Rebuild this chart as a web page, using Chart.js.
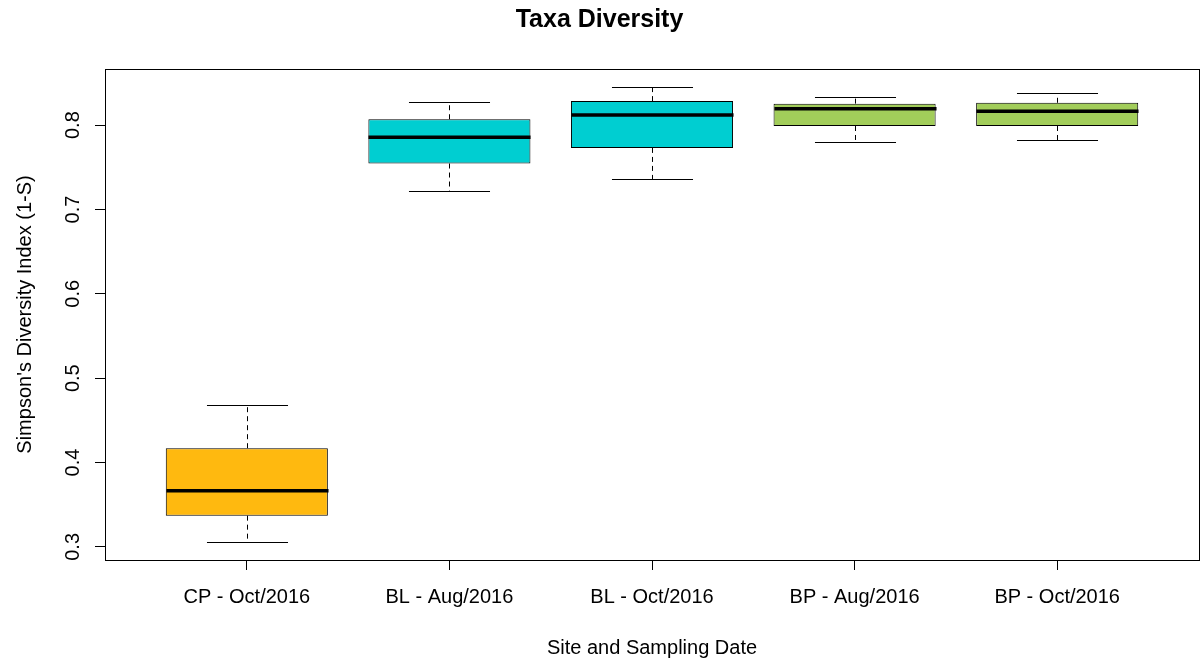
<!DOCTYPE html>
<html>
<head>
<meta charset="utf-8">
<title>Taxa Diversity</title>
<script src="https://cdn.jsdelivr.net/npm/chart.js@4/dist/chart.umd.min.js"></script>
<style>
  html, body { margin: 0; padding: 0; background: #fff; }
</style>
</head>
<body>
<canvas id="chart-js" width="1203" height="663"></canvas>
<script>
const categories = ["CP - Oct/2016", "BL - Aug/2016", "BL - Oct/2016", "BP - Aug/2016", "BP - Oct/2016"];
const whiskerLow = [0.306, 0.722, 0.736, 0.780, 0.782];
const q1 = [0.337, 0.7545, 0.773, 0.799, 0.799];
const median = [0.3665, 0.7855, 0.812, 0.8195, 0.8165];
const q3 = [0.417, 0.807, 0.8285, 0.8255, 0.8265];
const whiskerHigh = [0.468, 0.827, 0.845, 0.8335, 0.838];
const boxColors = ["#FFB90F", "#00CED1", "#00CED1", "#A2CD5A", "#A2CD5A"];
const yTicks = [0.3, 0.4, 0.5, 0.6, 0.7, 0.8];

// R style range: data range plus 4% on each side
const lo = Math.min(...whiskerLow);
const hi = Math.max(...whiskerHigh);
const pad = (hi - lo) * 0.04;

Chart.defaults.font.family = "'Liberation Sans', Arial, sans-serif";
Chart.defaults.color = "#000";

// whiskers, caps, medians and the frame round the plot
const boxExtras = {
  id: "boxExtras",
  afterDatasetsDraw(chart) {
    const { ctx, chartArea } = chart;
    const x = chart.scales.x;
    const y = chart.scales.y;
    ctx.save();
    ctx.strokeStyle = "#000";
    categories.forEach((c, i) => {
      const cx = Math.round(x.getPixelForValue(i + 1)) + 0.5;
      const boxHalf = x.getPixelForValue(i + 1.4) - x.getPixelForValue(i + 1);
      const half = boxHalf / 2;
      ctx.lineWidth = 1;
      ctx.setLineDash([5, 4]);
      ctx.beginPath();
      ctx.moveTo(cx, y.getPixelForValue(q3[i]));
      ctx.lineTo(cx, y.getPixelForValue(whiskerHigh[i]));
      ctx.moveTo(cx, y.getPixelForValue(q1[i]));
      ctx.lineTo(cx, y.getPixelForValue(whiskerLow[i]));
      ctx.stroke();
      ctx.setLineDash([]);
      ctx.beginPath();
      const yh = Math.round(y.getPixelForValue(whiskerHigh[i])) + 0.5;
      const yl = Math.round(y.getPixelForValue(whiskerLow[i])) + 0.5;
      ctx.moveTo(cx - half, yh);
      ctx.lineTo(cx + half, yh);
      ctx.moveTo(cx - half, yl);
      ctx.lineTo(cx + half, yl);
      ctx.stroke();
      ctx.lineWidth = 3.5;
      ctx.beginPath();
      const ym = y.getPixelForValue(median[i]);
      ctx.moveTo(cx - boxHalf, ym);
      ctx.lineTo(cx + boxHalf, ym);
      ctx.stroke();
    });
    ctx.lineWidth = 1;
    ctx.strokeRect(Math.round(chartArea.left) + 0.5, Math.round(chartArea.top) + 0.5,
      Math.round(chartArea.right - chartArea.left), Math.round(chartArea.bottom - chartArea.top));
    ctx.restore();
  }
};

const graphic = document.querySelector("#chart-js");
new Chart(graphic, {
  type: "bar",
  data: {
    datasets: [
      {
        data: categories.map((c, i) => ({ x: i + 1, y: [q1[i], q3[i]] })),
        backgroundColor: boxColors,
        borderColor: "#000",
        borderWidth: 1,
        borderSkipped: false,
        categoryPercentage: 1,
        barPercentage: 0.8,
      },
    ],
  },
  options: {
    responsive: false,
    animation: false,
    layout: { padding: { left: 0, right: 4, top: 0, bottom: 0 } },
    plugins: {
      legend: { display: false },
      tooltip: { enabled: false },
      title: {
        display: true,
        text: "Taxa Diversity",
        color: "#000",
        font: { size: 25, weight: "bold" },
        padding: { top: 5, bottom: 34 },
      },
    },
    scales: {
      x: {
        type: "linear",
        min: 0.3,
        max: 5.7,
        offset: false,
        afterBuildTicks: (axis) => {
          axis.ticks = categories.map((c, i) => ({ value: i + 1 }));
        },
        afterFit: (axis) => {
          axis.height = 103;
        },
        ticks: {
          autoSkip: false,
          maxRotation: 0,
          padding: 15,
          font: { size: 20 },
          callback: (value) => categories[value - 1],
        },
        grid: { drawOnChartArea: false, offset: false, color: "#000", tickLength: 10 },
        border: { display: true, color: "#000", width: 1 },
        title: {
          display: true,
          text: "Site and Sampling Date",
          font: { size: 20 },
          padding: { top: 0, bottom: 3 },
        },
      },
      y: {
        min: lo - pad,
        max: hi + pad,
        afterBuildTicks: (axis) => {
          axis.ticks = yTicks.map((v) => ({ value: v }));
        },
        afterFit: (axis) => {
          axis.width = 105;
        },
        ticks: {
          minRotation: 90,
          maxRotation: 90,
          crossAlign: "center",
          padding: 8,
          font: { size: 20 },
          callback: (value) => value.toFixed(1),
        },
        grid: { drawOnChartArea: false, color: "#000", tickLength: 10 },
        border: { display: true, color: "#000", width: 1 },
        title: {
          display: true,
          text: "Simpson's Diversity Index (1-S)",
          font: { size: 20 },
          padding: { top: 13, bottom: 0 },
        },
      },
    },
  },
  plugins: [boxExtras],
});
</script>
</body>
</html>
